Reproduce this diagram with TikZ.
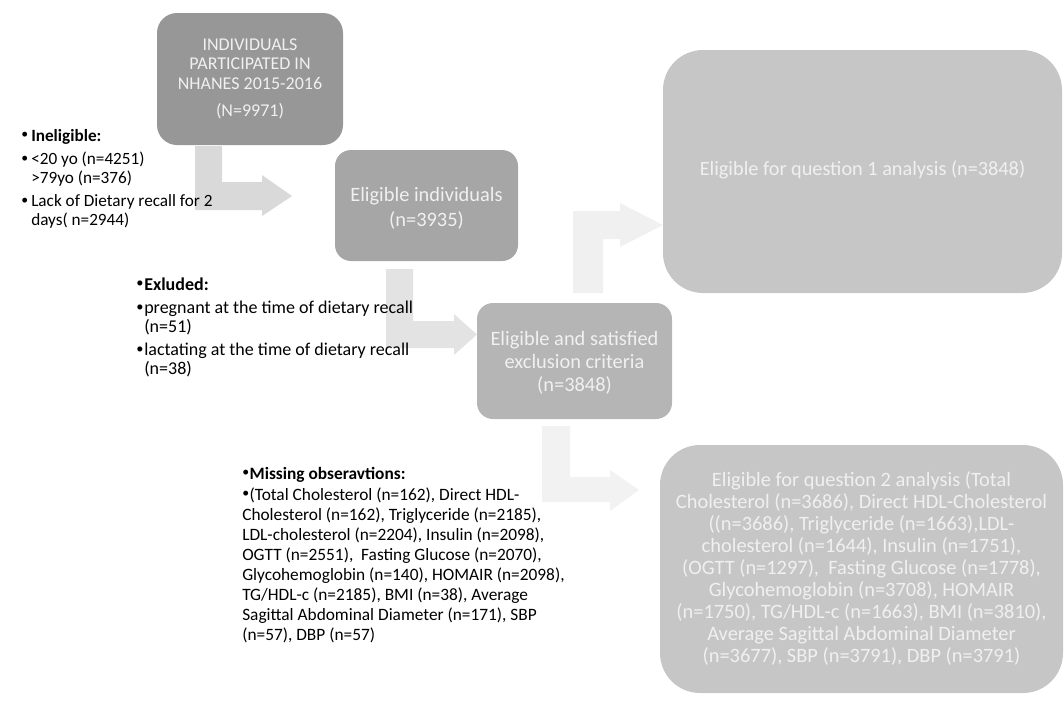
\documentclass[tikz,border=0pt]{standalone}
\usepackage{fontspec}
\setmainfont{Carlito}
\usepackage{graphicx}
\usepackage{array}
\definecolor{cA}{HTML}{979797}
\definecolor{cB}{HTML}{A6A6A6}
\definecolor{cC}{HTML}{B5B5B5}
\definecolor{cD}{HTML}{C6C6C6}
\definecolor{boxtext}{HTML}{F0F0F0}
\definecolor{arA}{HTML}{D9D9D9}
\definecolor{arB}{HTML}{E3E3E3}
\definecolor{arC}{HTML}{F0F0F0}
\definecolor{arD}{HTML}{F2F2F2}
\newcommand{\bul}{\raisebox{0.12em}{\scalebox{0.8}{•}}}
\begin{document}
\begin{tikzpicture}[x=0.75pt,y=-0.75pt,
  box/.style={draw=none, inner sep=0pt},
  boxlabel/.style={text=boxtext, align=center, inner sep=0pt},
  listtext/.style={inner sep=0pt, text=black, align=left}]
\useasboundingbox (0,0) rectangle (1064,700);
% block arrows
\fill[arA] (195,146) -- (222,146) -- (222,182) -- (262,182) -- (262,175) -- (292,196) -- (262,216) -- (262,210) -- (195,210) -- cycle;
\fill[arB] (386,269) -- (413,269) -- (413,321) -- (454,321) -- (454,314) -- (477,334.5) -- (454,355) -- (454,348) -- (386,348) -- cycle;
\fill[arC] (573,293) -- (573,211) -- (620,211) -- (620,203) -- (663,225) -- (620,247) -- (620,239) -- (603,239) -- (603,293) -- cycle;
\fill[arD] (542,426) -- (570,426) -- (570,477) -- (610,477) -- (610,470) -- (639,490) -- (610,511) -- (610,502) -- (542,502) -- cycle;
% boxes
\node[box, fill=cA, minimum width=186*0.75pt, minimum height=132*0.75pt, rounded corners=15pt] (n1) at (250,79) {};
\node[boxlabel, font=\fontsize{13.5pt}{14.6pt}\selectfont] (n1t) at (250,79)
  {INDIVIDUALS\\PARTICIPATED IN\\NHANES 2015-2016\\[6pt](N=9971)};
\node[box, fill=cB, minimum width=183*0.75pt, minimum height=111*0.75pt, rounded corners=12pt] (n2) at (426.5,205.5) {};
\node[boxlabel, font=\fontsize{15.3pt}{18.6pt}\selectfont] (n2t) at (426.5,208.5)
  {Eligible individuals\\(n=3935)};
\node[box, fill=cC, minimum width=195*0.75pt, minimum height=116*0.75pt, rounded corners=12pt] (n3) at (574.5,361) {};
\node[boxlabel, font=\fontsize{15.3pt}{17.25pt}\selectfont] (n3t) at (574.5,362.5)
  {Eligible and satisfied\\exclusion criteria\\(n=3848)};
\node[box, fill=cD, minimum width=399*0.75pt, minimum height=243*0.75pt, rounded corners=30pt] (q1) at (862.5,171.5) {};
\node[boxlabel, font=\fontsize{15.2pt}{17pt}\selectfont] (q1t) at (862.5,169.5)
  {Eligible for question 1 analysis (n=3848)};
\node[box, fill=cD, minimum width=403*0.75pt, minimum height=248*0.75pt, rounded corners=30pt] (q2) at (861.5,569) {};
\node[boxlabel, font=\fontsize{15.3pt}{16.5pt}\selectfont] (q2t) at (861.5,568)
  {Eligible for question 2 analysis (Total\\
   Cholesterol (n=3686), Direct HDL-Cholesterol\\
   ((n=3686), Triglyceride (n=1663),LDL-\\
   cholesterol (n=1644), Insulin (n=1751),\\
   (OGTT (n=1297),\ \ Fasting Glucose (n=1778),\\
   Glycohemoglobin (n=3708), HOMAIR\\
   (n=1750), TG/HDL-c (n=1663), BMI (n=3810),\\
   Average Sagittal Abdominal Diameter\\
   (n=3677), SBP (n=3791), DBP (n=3791)};
% lists
\node[listtext, anchor=base west, font=\fontsize{12.9pt}{14.25pt}\selectfont] (inel) at (21,141)
  {\begin{tabular}[t]{@{}p{7.5pt}@{}l@{}}
   \bul & \textbf{Ineligible:}\\[3.2pt]
   \bul & <20 yo (n=4251)\\
     & >79yo (n=376)\\[3.2pt]
   \bul & Lack of Dietary recall for 2\\
     & days( n=2944)
   \end{tabular}};
\node[listtext, anchor=base west, font=\fontsize{13.5pt}{14.25pt}\selectfont] (excl) at (136,290)
  {\begin{tabular}[t]{@{}p{6pt}@{}l@{}}
   \bul & \textbf{Exluded:}\\[3.2pt]
   \bul & pregnant at the time of dietary recall\\
     & (n=51)\\[3.2pt]
   \bul & lactating at the time of dietary recall\\
     & (n=38)
   \end{tabular}};
\node[listtext, anchor=base west, font=\fontsize{13pt}{15pt}\selectfont] (miss) at (242,479)
  {\begin{tabular}[t]{@{}l@{}}
   \makebox[5.5pt][l]{\bul}\textbf{Missing obseravtions:}\\[0.8pt]
   \makebox[5.5pt][l]{\bul}(Total Cholesterol (n=162), Direct HDL-\\
   Cholesterol (n=162), Triglyceride (n=2185),\\
   LDL-cholesterol (n=2204), Insulin (n=2098),\\
   OGTT (n=2551),\ \ Fasting Glucose (n=2070),\\
   Glycohemoglobin (n=140), HOMAIR (n=2098),\\
   TG/HDL-c (n=2185), BMI (n=38), Average\\
   Sagittal Abdominal Diameter (n=171), SBP\\
   (n=57), DBP (n=57)
   \end{tabular}};
\end{tikzpicture}
\end{document}
